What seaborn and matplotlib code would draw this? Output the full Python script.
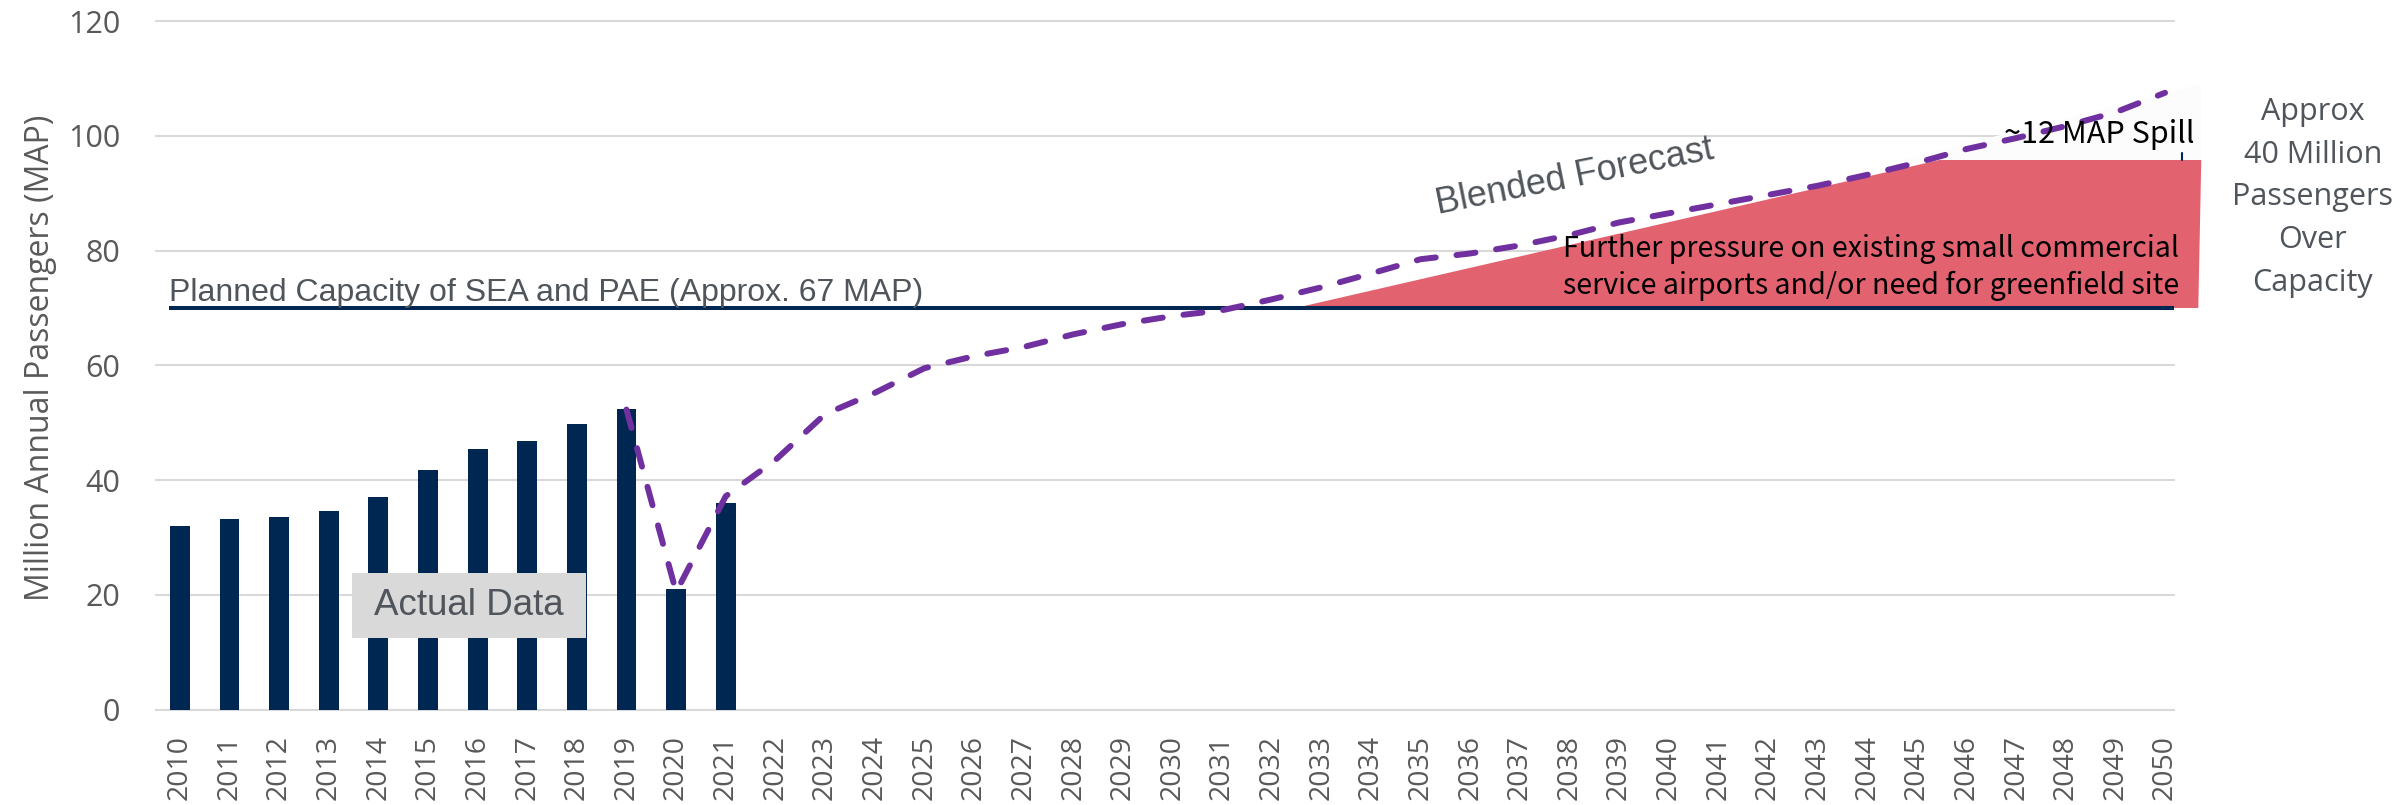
import matplotlib
matplotlib.use("Agg")
import matplotlib.pyplot as plt
from matplotlib.patches import Polygon, Rectangle
import seaborn as sns
import pandas as pd

# ---- data -------------------------------------------------------------
all_years = list(range(2010, 2051))

actual_years = [2010, 2011, 2012, 2013, 2014, 2015, 2016, 2017, 2018, 2019, 2020, 2021]
actual_map = [32.0, 33.3, 33.5, 34.7, 37.1, 41.8, 45.4, 46.8, 49.8, 52.4, 21.0, 36.0]

forecast_years = list(range(2019, 2051))
forecast_map = [52.3, 20.5, 37.2, 43.5, 51.5, 55.2, 59.5, 61.6, 63.2, 65.4,
                67.2, 68.6, 69.6, 71.5, 73.6, 76.0, 78.5, 79.5, 80.9, 82.7,
                84.9, 86.5, 88.1, 89.7, 91.3, 93.2, 95.3, 97.7, 99.6, 101.7,
                104.1, 107.5]

capacity_map = 70.0
capacity_span = [2009.78, 2050.18]

# shortfall wedge (year, MAP) corners
pressure_x = [2032.48, 2045.46, 2050.73, 2050.67]
pressure_y = [70.0, 95.8, 95.8, 70.0]
spill_x = [2044.7, 2050.72, 2050.72]
spill_y = [95.8, 109.0, 95.8]

NAVY = "#002652"
PURPLE = "#7030a0"
RED = "#e2626f"
GRID = "#d9d9d9"
TICK_GRAY = "#595959"
NOTE_GRAY = "#4f555b"
YLABEL = "Million Annual Passengers (MAP)"

# ---- figure -----------------------------------------------------------
sns.set_theme(style="white")
plt.rcParams["font.family"] = ["Open Sans", "DejaVu Sans"]

fig = plt.figure(figsize=(24.05, 8.05), dpi=100)
ax = fig.add_axes([0.06445, 0.1148, 0.8399, 0.8662])

df = pd.DataFrame({"year": actual_years, "map": actual_map})
sns.barplot(data=df, x="year", y="map", native_scale=True, width=0.4,
            color=NAVY, saturation=1, ax=ax, zorder=3, linewidth=0)

# planned capacity
ax.plot(capacity_span, [capacity_map, capacity_map], color=NAVY,
        linewidth=2.9, zorder=5, solid_capstyle="butt", clip_on=False)
ax.text(capacity_span[0], 71.3, "Planned Capacity of SEA and PAE (Approx. 67 MAP)",
        family="Liberation Sans", fontsize=23, color=NOTE_GRAY,
        ha="left", va="baseline", zorder=6)

# shortfall wedge and spill area
ax.add_patch(Polygon(list(zip(pressure_x, pressure_y)), closed=True,
                     facecolor=RED, edgecolor="none", zorder=4, clip_on=False))
ax.add_patch(Polygon(list(zip(spill_x, spill_y)), closed=True,
                     facecolor="#fcfcfc", edgecolor="none", zorder=4, clip_on=False))
ax.plot([2050.35, 2050.35], [95.8, 97.0], color=NAVY, linewidth=1.5,
        zorder=4, clip_on=False)

# blended forecast
fc = pd.DataFrame({"year": forecast_years, "map": forecast_map})
sns.lineplot(data=fc, x="year", y="map", color=PURPLE, linewidth=4.3,
             ax=ax, zorder=7)
fline = ax.lines[-1]
fline.set_dashes([3.2, 3.5])
fline.set_dash_capstyle("round")
fline.set_clip_on(False)

# axes styling
ax.set_xlim(2009.5, 2050.2)
ax.set_ylim(-0.5, 121)
ax.set_yticks([0, 20, 40, 60, 80, 100, 120])
ax.set_xticks(all_years)
ax.set_xticklabels([str(y) for y in all_years], rotation=90)
ax.grid(axis="y", color=GRID, linewidth=1.5, zorder=0)
ax.grid(axis="x", visible=False)
ax.set_axisbelow(True)
for s in ax.spines.values():
    s.set_visible(False)
ax.tick_params(axis="y", length=0, pad=25, labelsize=22, labelcolor=TICK_GRAY)
ax.tick_params(axis="x", length=0, pad=16, labelsize=20.5, labelcolor=TICK_GRAY)
ax.set_xlabel("")
ax.set_ylabel(YLABEL, fontsize=23, color=TICK_GRAY, va="center")
ax.yaxis.set_label_coords((40 - 155) / 2020, (712.6 - 358) / 697.3)

# labels
ax.add_patch(Rectangle((2013.47, 12.5), 4.72, 11.3, facecolor="#d9d9d9",
                       edgecolor="none", zorder=6))
ax.text(2015.83, 18.2, "Actual Data", family="Liberation Sans", fontsize=26.5,
        color=NOTE_GRAY, ha="center", va="center", zorder=7)

ax.text(2038.1, 92.8, "Blended Forecast", family="Liberation Sans", fontsize=26,
        color=NOTE_GRAY, ha="center", va="center", rotation=11.3,
        rotation_mode="anchor", zorder=8)

ax.text(2050.60, 98.7, "~12 MAP Spill", family="Noto Sans CJK KR", fontsize=22,
        color="black", ha="right", va="baseline", zorder=8)

ax.text(2050.28, 77.1,
        "Further pressure on existing small commercial\nservice airports and/or need for greenfield site",
        family="Noto Sans CJK KR", fontsize=20.6, color="black", ha="right",
        va="center", multialignment="right", linespacing=1.3, zorder=8)

ax.text(2052.98, 89.3, "Approx\n40 Million\nPassengers\nOver\nCapacity",
        fontsize=22, color=NOTE_GRAY, ha="center", va="center",
        multialignment="center", linespacing=1.55, zorder=8)

fig.savefig("out.png", dpi=100)
